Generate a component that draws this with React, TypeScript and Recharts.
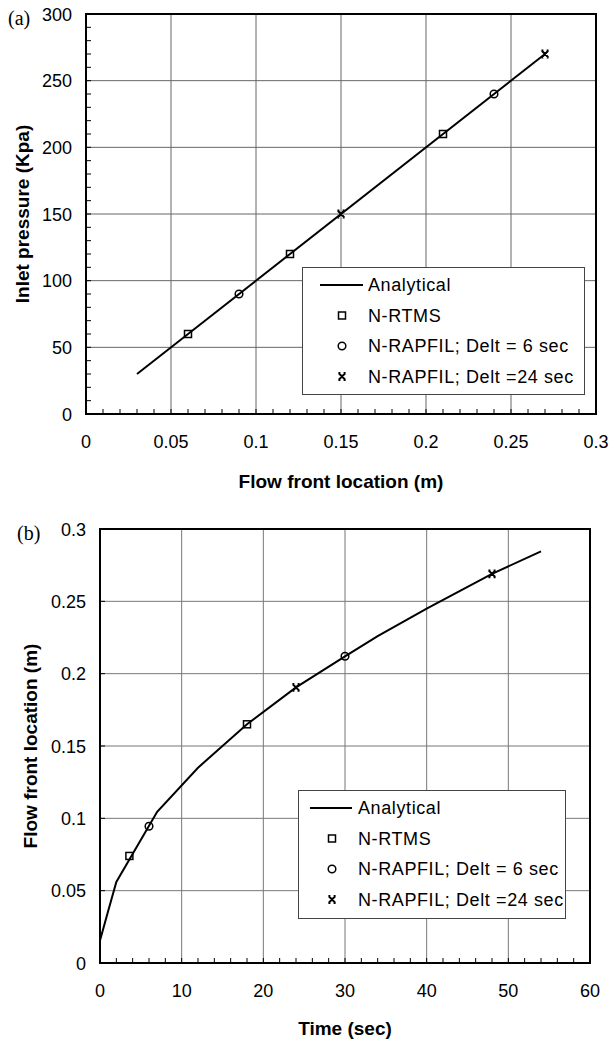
import React from 'react';
import {
  ComposedChart,
  Line,
  Scatter,
  XAxis,
  YAxis,
  CartesianGrid,
  ReferenceArea,
} from 'recharts';

const SANS = '"Liberation Sans", Arial, Helvetica, sans-serif';
const SERIF = '"Liberation Serif", "Times New Roman", serif';

// (a) inlet pressure vs flow front location
const pressLineX = [0.03, 0.27];
const pressLineY = [30, 270];
const pressRtmsX = [0.06, 0.12, 0.21];
const pressRtmsY = [60, 120, 210];
const pressDt6X = [0.09, 0.24];
const pressDt6Y = [90, 240];
const pressDt24X = [0.15, 0.27];
const pressDt24Y = [150, 270];
const pressXMajor = [0, 0.05, 0.1, 0.15, 0.2, 0.25, 0.3];
const pressYMajor = [0, 50, 100, 150, 200, 250, 300];

// (b) flow front location vs time
const frontLineT = [0, 1, 2, 7, 12, 18, 24, 30, 34, 40, 48, 54];
const frontLineY = [0.0155, 0.036, 0.056, 0.1045, 0.135, 0.165, 0.1905, 0.212, 0.226, 0.245, 0.269, 0.2845];
const frontRtmsT = [3.6, 18];
const frontRtmsY = [0.074, 0.165];
const frontDt6T = [6, 30];
const frontDt6Y = [0.0945, 0.212];
const frontDt24T = [24, 48];
const frontDt24Y = [0.1905, 0.269];
const frontXMajor = [0, 10, 20, 30, 40, 50, 60];
const frontYMajor = [0, 0.05, 0.1, 0.15, 0.2, 0.25, 0.3];

type MarkKind = 'line' | 'square' | 'circle' | 'star';
const legendNames = ['Analytical', 'N-RTMS', 'N-RAPFIL; Delt = 6 sec', 'N-RAPFIL; Delt =24 sec'];
const legendKinds: MarkKind[] = ['line', 'square', 'circle', 'star'];

const zip = (xs: number[], ys: number[]) => xs.map((x, i) => ({ x, y: ys[i] }));

function fineTicks(majors: number[], parts: number): number[] {
  const out: number[] = [];
  for (let i = 0; i < majors.length - 1; i++) {
    const a = majors[i];
    const b = majors[i + 1];
    for (let k = 0; k < parts; k++) out.push(+(a + ((b - a) * k) / parts).toFixed(6));
  }
  out.push(majors[majors.length - 1]);
  return out;
}

const hasValue = (list: number[], v: number) => list.some((m) => Math.abs(m - v) < 1e-9);

function Marker({ kind, cx, cy }: { kind: MarkKind; cx: number; cy: number }) {
  if (kind === 'square')
    return <rect x={cx - 3.5} y={cy - 3.5} width={7} height={7} fill="none" stroke="#000" strokeWidth={1.5} />;
  if (kind === 'circle')
    return <circle cx={cx} cy={cy} r={3.8} fill="none" stroke="#000" strokeWidth={1.5} />;
  return (
    <path
      d={`M${cx - 3.2},${cy - 3.2}L${cx + 3.2},${cy + 3.2}M${cx + 3.2},${cy - 3.2}L${cx - 3.2},${cy + 3.2}M${cx - 3.6},${cy - 3.4}H${cx - 1.6}M${cx + 1.6},${cy - 3.4}H${cx + 3.6}M${cx - 3.6},${cy + 3.4}H${cx - 1.6}M${cx + 1.6},${cy + 3.4}H${cx + 3.6}`}
      stroke="#000"
      strokeWidth={2}
      fill="none"
    />
  );
}

const shapeOf = (kind: MarkKind) => (p: any) => <Marker kind={kind} cx={p.cx} cy={p.cy} />;

// ticks sit inside the frame; only the majors get a number
const bottomTick = (majors: number[]) => (props: any) => {
  const { x, y, payload } = props;
  const v = payload.value as number;
  return (
    <g>
      <line x1={x} x2={x} y1={y} y2={y - 5} stroke="#000" strokeWidth={1} />
      {hasValue(majors, v) && (
        <text x={x} y={y + 34} textAnchor="middle" fontSize={18} fontFamily={SANS} fill="#000">
          {v}
        </text>
      )}
    </g>
  );
};

const leftTick = (majors: number[]) => (props: any) => {
  const { x, y, payload } = props;
  const v = payload.value as number;
  return (
    <g>
      <line x1={x} x2={x + 5} y1={y} y2={y} stroke="#000" strokeWidth={1} />
      {hasValue(majors, v) && (
        <text x={x - 14} y={y + 6.5} textAnchor="end" fontSize={18} fontFamily={SANS} fill="#000">
          {v}
        </text>
      )}
    </g>
  );
};

const yTitle = (text: string, cx: number) => (props: any) => {
  const vb = props.viewBox || { y: 0, height: 0 };
  const cy = vb.y + vb.height / 2;
  return (
    <text
      x={cx}
      y={cy}
      transform={`rotate(-90 ${cx} ${cy})`}
      textAnchor="middle"
      dominantBaseline="central"
      fontFamily={SANS}
      fontWeight="bold"
      fontSize={19}
      fill="#000"
    >
      {text}
    </text>
  );
};

const xTitle = (text: string, dy: number) => (props: any) => {
  const vb = props.viewBox || { x: 0, y: 0, width: 0 };
  return (
    <text
      x={vb.x + vb.width / 2}
      y={vb.y + dy}
      textAnchor="middle"
      dominantBaseline="central"
      fontFamily={SANS}
      fontWeight="bold"
      fontSize={19}
      fill="#000"
    >
      {text}
    </text>
  );
};

interface LegendBoxProps {
  left: number;
  top: number;
  width: number;
  height: number;
  firstRow: number;
  rowGap: number;
  iconX: number;
  lineFrom: number;
  lineTo: number;
  textX: number;
}

function LegendBox({ left, top, width, height, firstRow, rowGap, iconX, lineFrom, lineTo, textX }: LegendBoxProps) {
  return (
    <svg width={width} height={height} style={{ position: 'absolute', left, top }}>
      <rect x={0.5} y={0.5} width={width - 1} height={height - 1} fill="#fff" stroke="#444" strokeWidth={1} />
      {legendNames.map((name, i) => {
        const cy = firstRow + i * rowGap;
        const kind = legendKinds[i];
        return (
          <g key={name}>
            {kind === 'line' ? (
              <line x1={lineFrom} x2={lineTo} y1={cy} y2={cy} stroke="#000" strokeWidth={2} />
            ) : (
              <Marker kind={kind} cx={iconX} cy={cy} />
            )}
            <text
              x={textX}
              y={cy}
              dominantBaseline="central"
              fontFamily={SANS}
              fontSize={18}
              letterSpacing={0.6}
              fill="#000"
            >
              {name}
            </text>
          </g>
        );
      })}
    </svg>
  );
}

function PressureChart() {
  return (
    <ComposedChart width={610} height={500} margin={{ top: 14, right: 14, bottom: 0, left: 0 }}>
      <CartesianGrid stroke="#666" verticalValues={pressXMajor} horizontalValues={pressYMajor} />
      <XAxis
        type="number"
        dataKey="x"
        domain={[0, 0.3]}
        allowDataOverflow
        ticks={fineTicks(pressXMajor, 5)}
        interval={0}
        tickSize={0}
        tickMargin={0}
        axisLine={false}
        tickLine={false}
        height={86}
        tick={bottomTick(pressXMajor)}
        label={{ content: xTitle('Flow front location (m)', 67) }}
      />
      <YAxis
        type="number"
        dataKey="y"
        domain={[0, 300]}
        allowDataOverflow
        ticks={fineTicks(pressYMajor, 5)}
        interval={0}
        tickSize={0}
        tickMargin={0}
        axisLine={false}
        tickLine={false}
        width={86}
        tick={leftTick(pressYMajor)}
        label={{ content: yTitle('Inlet pressure (Kpa)', 22) }}
      />
      <Line
        data={zip(pressLineX, pressLineY)}
        dataKey="y"
        type="linear"
        stroke="#000"
        strokeWidth={2}
        dot={false}
        isAnimationActive={false}
      />
      <Scatter data={zip(pressRtmsX, pressRtmsY)} shape={shapeOf('square')} isAnimationActive={false} />
      <Scatter data={zip(pressDt6X, pressDt6Y)} shape={shapeOf('circle')} isAnimationActive={false} />
      <Scatter data={zip(pressDt24X, pressDt24Y)} shape={shapeOf('star')} isAnimationActive={false} />
      <ReferenceArea x1={0} x2={0.3} y1={0} y2={300} fill="none" stroke="#000" strokeWidth={2} />
    </ComposedChart>
  );
}

function FrontChart() {
  return (
    <ComposedChart width={610} height={541} margin={{ top: 29, right: 20, bottom: 0, left: 0 }}>
      <CartesianGrid stroke="#777" verticalValues={frontXMajor} horizontalValues={frontYMajor} />
      <XAxis
        type="number"
        dataKey="x"
        domain={[0, 60]}
        allowDataOverflow
        ticks={fineTicks(frontXMajor, 5)}
        interval={0}
        tickSize={0}
        tickMargin={0}
        axisLine={false}
        tickLine={false}
        height={78}
        tick={bottomTick(frontXMajor)}
        label={{ content: xTitle('Time (sec)', 65) }}
      />
      <YAxis
        type="number"
        dataKey="y"
        domain={[0, 0.3]}
        allowDataOverflow
        ticks={frontYMajor}
        interval={0}
        tickSize={0}
        tickMargin={0}
        axisLine={false}
        tickLine={false}
        width={100}
        tick={leftTick(frontYMajor)}
        label={{ content: yTitle('Flow front location (m)', 30) }}
      />
      <Line
        data={zip(frontLineT, frontLineY)}
        dataKey="y"
        type="linear"
        stroke="#000"
        strokeWidth={2}
        dot={false}
        isAnimationActive={false}
      />
      <Scatter data={zip(frontRtmsT, frontRtmsY)} shape={shapeOf('square')} isAnimationActive={false} />
      <Scatter data={zip(frontDt6T, frontDt6Y)} shape={shapeOf('circle')} isAnimationActive={false} />
      <Scatter data={zip(frontDt24T, frontDt24Y)} shape={shapeOf('star')} isAnimationActive={false} />
      <ReferenceArea x1={0} x2={60} y1={0} y2={0.3} fill="none" stroke="#000" strokeWidth={2} />
    </ComposedChart>
  );
}

const panelTag: React.CSSProperties = {
  position: 'absolute',
  fontFamily: SERIF,
  fontSize: 20,
  lineHeight: '20px',
  color: '#000',
};

export default function App() {
  return (
    <div style={{ position: 'absolute', left: 0, top: 0, width: 610, height: 1041, background: '#fff' }}>
      <div style={{ position: 'absolute', left: 0, top: 0 }}>
        <PressureChart />
      </div>
      <div style={{ position: 'absolute', left: 0, top: 500 }}>
        <FrontChart />
      </div>
      <LegendBox
        left={302}
        top={267}
        width={283}
        height={128}
        firstRow={18}
        rowGap={30.5}
        iconX={40}
        lineFrom={18}
        lineTo={61}
        textX={66}
      />
      <LegendBox
        left={298}
        top={790}
        width={268}
        height={129}
        firstRow={18}
        rowGap={30.5}
        iconX={34}
        lineFrom={12}
        lineTo={54}
        textX={60}
      />
      <div style={{ ...panelTag, left: 8, top: 8 }}>(a)</div>
      <div style={{ ...panelTag, left: 17, top: 523 }}>(b)</div>
    </div>
  );
}
